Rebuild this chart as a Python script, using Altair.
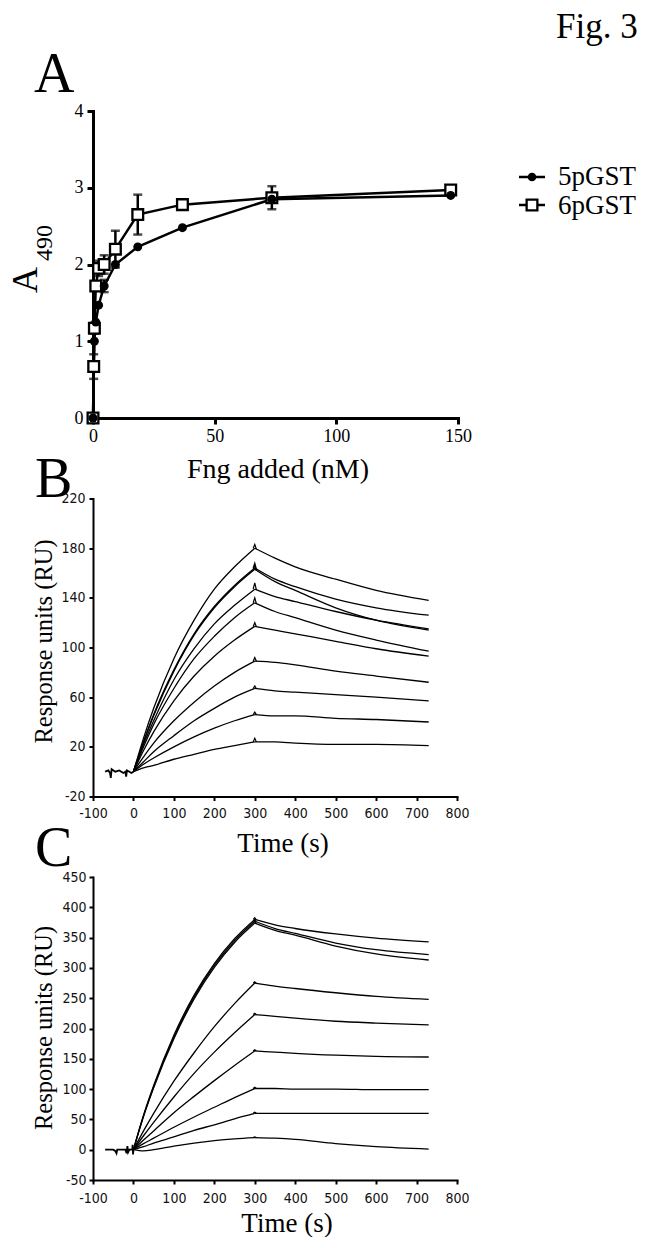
import altair as alt
import pandas as pd

SERIF = "Liberation Serif, Times New Roman, serif"
SANS_N = "Liberation Sans Narrow, Arial Narrow, DejaVu Sans Condensed, Liberation Sans, sans-serif"

# ---------------- Panel A data ----------------
A_CONC_5 = [0, 0.57, 1.15, 2.3, 4.6, 9.2, 18.4, 36.75, 73.5, 147]
A_MEAN_5 = [0, 1.00, 1.25, 1.47, 1.72, 2.00, 2.23, 2.48, 2.85, 2.90]
A_ERR_5 = [0, 0.03, 0.04, 0.05, 0.08, 0.03, 0.03, 0.02, 0.05, 0.02]
A_CONC_6 = [0, 0.29, 0.57, 1.15, 2.3, 4.6, 9.2, 18.4, 36.75, 73.5, 147]
A_MEAN_6 = [0, 0.67, 1.17, 1.72, 1.95, 2.00, 2.20, 2.65, 2.78, 2.87, 2.97]
A_ERR_6 = [0, 0.16, 0.07, 0.06, 0.10, 0.12, 0.24, 0.26, 0.03, 0.15, 0.03]
SERIES = ["5pGST", "6pGST"]
A_XTICKS = [0, 50, 100, 150]
A_YTICKS = [0, 1, 2, 3, 4]

# ---------------- Panel B data ----------------
B_T_ASSOC = [0, 25, 50, 100, 150, 200, 250, 300]
B_ASSOC = [
    [0, 27, 51, 91, 122, 147, 165, 180],
    [0, 24, 46, 82, 111, 133, 150, 164],
    [0, 24, 45, 81, 110, 132, 149, 163],
    [0, 22, 41, 74, 99, 119, 134, 147],
    [0, 20, 38, 67, 91, 109, 124, 136],
    [0, 17, 32, 57, 77, 93, 106, 117],
    [0, 12, 23, 41, 56, 69, 80, 89],
    [0, 8, 16, 29, 41, 51, 60, 67],
    [0, 6, 11, 20, 28, 35, 41, 46],
    [0, 3, 5, 10, 14, 18, 21, 24],
]
B_T_DISS = [300, 350, 400, 500, 600, 730]
B_DISS = [
    [180, 172, 165, 155, 146, 138],
    [164, 155, 149, 139, 132, 126],
    [163, 153, 146, 132, 122, 114],
    [147, 141, 137, 129, 122, 115],
    [136, 129, 124, 114, 106, 97],
    [117, 114, 111, 105, 99, 93],
    [89, 88, 86, 81, 77, 72],
    [67, 65, 64, 62, 60, 57],
    [46, 45, 45, 43, 42, 40],
    [24, 24, 23, 22, 22, 21],
]
B_SPIKE = [3, 4, 3, 5, 4, 3, 3, 2, 2, 3]
B_BASE_T = [-70, -62, -58, -56, -54, -45, -35, -25, -20, -18, -16, -10, -5, 0]
B_BASE_V = [0, 1, -1, -5, 2, 0, 1, -1, 0, -4, 1, 0, -1, 0]
B_XTICKS = [-100, 0, 100, 200, 300, 400, 500, 600, 700, 800]
B_YTICKS = [-20, 20, 60, 100, 140, 180, 220]

# ---------------- Panel C data ----------------
C_T_ASSOC = [0, 25, 50, 100, 150, 200, 250, 300]
C_ASSOC = [
    [0, 57, 106, 189, 255, 307, 348, 380],
    [0, 56, 104, 186, 252, 304, 345, 377],
    [0, 55, 102, 183, 249, 301, 342, 374],
    [0, 31, 60, 113, 160, 203, 241, 275],
    [0, 23, 45, 87, 126, 161, 193, 223],
    [0, 16, 31, 61, 88, 114, 139, 163],
    [0, 10, 19, 37, 54, 70, 86, 101],
    [0, 5, 11, 21, 32, 41, 51, 60],
    [0, -2, 0, 6, 11, 15, 18, 20],
]
C_T_DISS = [300, 350, 400, 500, 600, 730]
C_DISS = [
    [380, 371, 365, 356, 349, 343],
    [377, 365, 357, 341, 330, 322],
    [374, 362, 354, 336, 323, 313],
    [275, 270, 266, 259, 253, 248],
    [223, 220, 217, 212, 209, 206],
    [163, 161, 159, 156, 154, 153],
    [101, 101, 100, 100, 99, 99],
    [60, 60, 60, 60, 60, 60],
    [20, 19, 17, 10, 5, 1],
]
C_SPIKE = [3, 3, 3, 2, 2, 2, 2, 2, 1]
C_BASE_T = [-70, -50, -45, -42, -40, -35, -20, -17, -15, -13, -10, -3, -2, -1, 0]
C_BASE_V = [0, 0, -2, -6, 0, 0, 0, -6, 6, -4, 0, 0, 8, -8, 0]
C_XTICKS = [-100, 0, 100, 200, 300, 400, 500, 600, 700, 800]
C_YTICKS = [-50, 0, 50, 100, 150, 200, 250, 300, 350, 400, 450]

# ---------------- build tables ----------------
a_rows = []
for s, cs, ms, es in [(SERIES[0], A_CONC_5, A_MEAN_5, A_ERR_5),
                      (SERIES[1], A_CONC_6, A_MEAN_6, A_ERR_6)]:
    for c, m, e in zip(cs, ms, es):
        a_rows.append(dict(series=s, conc=c, mean=m, lo=m - e, hi=m + e, err=e))
dfA = pd.DataFrame(a_rows)
dfA_err = dfA[dfA["err"] > 0.05]


def sensor_tables(t_as, assoc, t_ds, diss, spikes, bt, bv):
    rows, srows = [], []
    for i, (a, d) in enumerate(zip(assoc, diss)):
        for t, v in zip(t_as, a):
            rows.append(dict(seg=f"a{i}", t=t, v=v))
        for t, v in zip(t_ds, d):
            rows.append(dict(seg=f"d{i}", t=t, v=v))
        pk = a[-1]
        for t, v in [(296, pk), (300, pk + spikes[i]), (304, d[1] + (pk - d[1]) * 0.9)]:
            srows.append(dict(seg=f"s{i}", t=t, v=v))
    base = pd.DataFrame(dict(t=bt, v=bv))
    return pd.DataFrame(rows), pd.DataFrame(srows), base


dfB, dfB_sp, dfB_base = sensor_tables(B_T_ASSOC, B_ASSOC, B_T_DISS, B_DISS, B_SPIKE, B_BASE_T, B_BASE_V)
dfC, dfC_sp, dfC_base = sensor_tables(C_T_ASSOC, C_ASSOC, C_T_DISS, C_DISS, C_SPIKE, C_BASE_T, C_BASE_V)

dummy = pd.DataFrame({"k": [0]})


def txt(text, x, y, size, angle=0, align="left", font=SERIF):
    return alt.Chart(dummy).mark_text(
        text=text, font=font, fontSize=size, angle=angle, align=align,
        baseline="alphabetic", color="black"
    ).encode(x=alt.value(x), y=alt.value(y))


# ---------------- Panel A ----------------
xA = alt.X("conc:Q", scale=alt.Scale(domain=[0, 150], nice=False, zero=False),
           axis=alt.Axis(values=A_XTICKS, title=None, grid=False, domainColor="black",
                         domainWidth=3, domainCap="square", tickColor="black", tickWidth=3,
                         tickSize=6, labelFont=SERIF, labelFontSize=18, labelColor="black",
                         labelPadding=3, labelFlush=False, labelOverlap=False))
yA = alt.Y("mean:Q", scale=alt.Scale(domain=[0, 4], nice=False),
           axis=alt.Axis(values=A_YTICKS, format="d", title=None, grid=False, domainColor="black",
                         domainWidth=3, domainCap="square", tickColor="black", tickWidth=3,
                         tickSize=6, labelFont=SERIF, labelFontSize=18, labelColor="black",
                         labelPadding=4, labelFlush=False, labelOverlap=False))

a_lines = alt.Chart(dfA).mark_line(color="black", strokeWidth=2.5).encode(
    x=xA, y=yA, detail="series:N")
a_err = alt.Chart(dfA_err).mark_rule(color="black", strokeWidth=2.5).encode(
    x="conc:Q", y="lo:Q", y2="hi:Q")
a_cap_lo = alt.Chart(dfA_err).mark_tick(color="black", orient="horizontal", size=9, thickness=2.5).encode(
    x="conc:Q", y="lo:Q")
a_cap_hi = alt.Chart(dfA_err).mark_tick(color="black", orient="horizontal", size=9, thickness=2.5).encode(
    x="conc:Q", y="hi:Q")
a_sq = alt.Chart(dfA[dfA["series"] == SERIES[1]]).mark_point(
    shape="square", filled=True, fill="white", stroke="black", strokeWidth=2.3, size=115,
    opacity=1).encode(x="conc:Q", y="mean:Q")
a_circ = alt.Chart(dfA[dfA["series"] == SERIES[0]]).mark_point(
    shape="circle", filled=True, color="black", size=80, opacity=1).encode(x="conc:Q", y="mean:Q")

# legend
leg_l1 = alt.Chart(dummy).mark_rule(color="black", strokeWidth=2.5).encode(
    x=alt.value(426), x2=alt.value(452), y=alt.value(66))
leg_p1 = alt.Chart(dummy).mark_point(shape="circle", filled=True, color="black", size=75, opacity=1).encode(
    x=alt.value(439), y=alt.value(66))
leg_l2 = alt.Chart(dummy).mark_rule(color="black", strokeWidth=2.5).encode(
    x=alt.value(426), x2=alt.value(452), y=alt.value(94))
leg_p2 = alt.Chart(dummy).mark_point(shape="square", filled=True, fill="white", stroke="black",
                                     strokeWidth=2.3, size=115, opacity=1).encode(
    x=alt.value(439), y=alt.value(94))

# invisible pins fixing the figure's outer box (top-left and right edge)
pin = alt.Chart(dummy).mark_rule(opacity=0, strokeWidth=1).encode(
    x=alt.value(-82.5), x2=alt.value(-80), y=alt.value(-102.5), y2=alt.value(-100))
pin_r = alt.Chart(dummy).mark_rule(opacity=0, strokeWidth=1).encode(
    x=alt.value(550), x2=alt.value(556), y=alt.value(-60), y2=alt.value(-58))

panelA = alt.layer(
    a_lines, a_err, a_cap_lo, a_cap_hi, a_sq, a_circ,
    leg_l1, leg_p1, leg_l2, leg_p2,
    txt(SERIES[0], 465, 74, 27), txt(SERIES[1], 465, 103, 27),
    txt("Fig. 3", 463, -73, 35),
    txt("A", -59, -19, 56),
    txt("Fng added (nM)", 185, 367, 28, align="center"),
    txt("A", -56, 182, 36, angle=270),
    txt("490", -41, 150, 24, angle=270),
    pin, pin_r,
).properties(width=365, height=307)


# ---------------- Panels B & C ----------------
def sensor_panel(df, dfsp, dfbase, xd, yd, xt, yt, ypad_x, ypad_y, h, letter, lx, ly,
                 ytitle_y, xtitle_x, xtitle_y):
    common = dict(title=None, grid=False, domainColor="black", domainWidth=2,
                  domainCap="square", tickColor="black", tickWidth=2, tickSize=4,
                  labelFont=SANS_N, labelFontSize=14, labelColor="#111",
                  labelFlush=False, labelOverlap=False, labelSeparation=0, labelBound=False,
                  labelExpr="'' + datum.value")
    xs = alt.X("t:Q", scale=alt.Scale(domain=xd, nice=False, zero=False),
               axis=alt.Axis(values=xt, tickCount=len(xt), labelPadding=ypad_x, **common))
    ys = alt.Y("v:Q", scale=alt.Scale(domain=yd, nice=False, zero=False),
               axis=alt.Axis(values=yt, tickCount=len(yt), labelPadding=ypad_y, **common))
    curves = alt.Chart(df).mark_line(color="black", strokeWidth=1.3, interpolate="monotone").encode(
        x=xs, y=ys, detail="seg:N")
    spikes = alt.Chart(dfsp).mark_line(color="black", strokeWidth=1.2).encode(
        x="t:Q", y="v:Q", detail="seg:N")
    base = alt.Chart(dfbase).mark_line(color="black", strokeWidth=1.8).encode(x="t:Q", y="v:Q")
    return alt.layer(
        curves, spikes, base,
        txt(letter, lx, ly, 56),
        txt("Response units (RU)", -41, ytitle_y, 24.5, angle=270, align="center"),
        txt("Time (s)", xtitle_x, xtitle_y, 27, align="center"),
    ).properties(width=364, height=h)


panelB = sensor_panel(dfB, dfB_sp, dfB_base, [-100, 800], [-20, 220], B_XTICKS, B_YTICKS,
                      6, 4, 298, "B", -58, -2, 143, 190, 353)
panelC = sensor_panel(dfC, dfC_sp, dfC_base, [-100, 800], [-50, 450], C_XTICKS, C_YTICKS,
                      7, 3, 303, "C", -58, -11, 151, 194, 355)

chart = alt.vconcat(panelA, panelB, panelC, spacing=80.5, bounds="flush").properties(
    padding=0
).configure_view(strokeWidth=0).configure_axis(labelOverlap=False)

chart.save("out.html", embed_options={"renderer": "svg", "actions": False})
